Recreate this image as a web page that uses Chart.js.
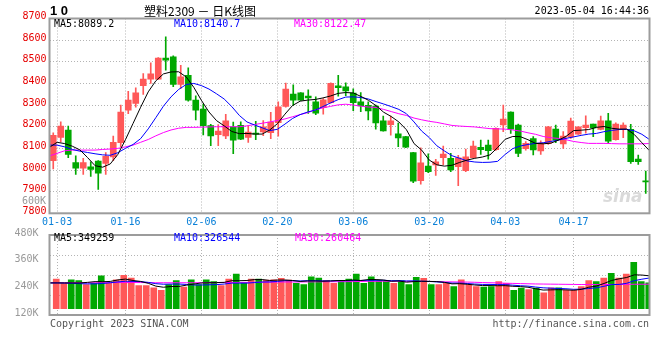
<!DOCTYPE html>
<html>
<head>
<meta charset="utf-8">
<script src="https://cdn.jsdelivr.net/npm/chart.js@4.4.1/dist/chart.umd.min.js"></script>
<style>
  body { margin: 0; background: #fff; }
  #wrap { position: relative; width: 660px; height: 360px; overflow: hidden; font-family: 'DejaVu Sans Mono', monospace; font-size: 10px; }
  #wrap canvas { position: absolute; left: 0; }
  .t { position: absolute; white-space: nowrap; line-height: 12px; }
</style>
</head>
<body>
<div id="wrap">
  <canvas id="kline" width="660" height="232" style="top:0"></canvas>
  <canvas id="vol" width="660" height="98" style="top:226px"></canvas>

  <div class="t" style="left:50px;top:4px;font:bold 13px 'Liberation Sans';line-height:14px">1 0</div>
  <div class="t" style="left:100px;top:4px;width:200px;text-align:center;font:12px 'Noto Sans CJK SC';line-height:14px;color:#000">塑料2309 － 日K线图</div>
  <div class="t" style="right:11px;top:5px;color:#000">2023-05-04 16:44:36</div>

  <div class="t" style="left:54px;top:18px;color:#000">MA5:8089.2</div>
  <div class="t" style="left:174px;top:18px;color:#0000ff">MA10:8140.7</div>
  <div class="t" style="left:294px;top:18px;color:#ff00ff">MA30:8122.47</div>

  <div class="t" style="left:22px;top:195px;color:#999">600K</div>
  <div class="t" style="left:603px;top:186px;font:italic bold 17px 'DejaVu Sans';line-height:20px;color:rgba(150,150,150,0.35)">sina</div>

  <div class="t" style="left:54px;top:232px;color:#000">MA5:349259</div>
  <div class="t" style="left:174px;top:232px;color:#0000ff">MA10:326544</div>
  <div class="t" style="left:295px;top:232px;color:#ff00ff">MA30:260464</div>

  <div class="t" style="left:50px;top:318px;color:#555">Copyright 2023 SINA.COM</div>
  <div class="t" style="right:11px;top:318px;color:#555">http://finance.sina.com.cn</div>
</div>

<script>
var COLORS = {
  UP: '#ff5858',
  DOWN: '#00a800',
  MA5: '#000000',
  MA10: '#0000ff',
  MA30: '#ff00ff',
  GRID: '#b4b4b4',
  FRAME: '#9c9c9c',
  PRICE_TICK: '#e60000',
  DATE_TICK: '#0a80d8',
  VOL_TICK: '#999999',
};

var dates = ['12-30','01-03','01-04','01-05','01-06','01-09','01-10','01-11','01-12','01-13',
  '01-16','01-17','01-18','01-19','01-20','01-30','01-31','02-01','02-02','02-03',
  '02-06','02-07','02-08','02-09','02-10','02-13','02-14','02-15','02-16','02-17',
  '02-20','02-21','02-22','02-23','02-24','02-27','02-28','03-01','03-02','03-03',
  '03-06','03-07','03-08','03-09','03-10','03-13','03-14','03-15','03-16','03-17',
  '03-20','03-21','03-22','03-23','03-24','03-27','03-28','03-29','03-30','03-31',
  '04-03','04-04','04-06','04-07','04-10','04-11','04-12','04-13','04-14','04-17',
  '04-18','04-19','04-20','04-21','04-24','04-25','04-26','04-27','04-28','05-04'];

var tickDays = ['01-03', '01-16', '02-06', '02-20', '03-06', '03-20', '04-03', '04-17'];

var open = [8043,8150,8185,8034,8008,8015,8041,8030,8060,8126,
  8277,8308,8390,8420,8420,8517,8523,8395,8438,8323,
  8281,8205,8163,8158,8200,8206,8150,8170,8176,8172,
  8219,8294,8351,8357,8342,8315,8288,8311,8389,8384,
  8356,8315,8299,8295,8227,8210,8167,8154,8080,7951,
  8018,8023,8057,8054,8015,7997,8057,8105,8115,8094,
  8208,8268,8208,8099,8145,8088,8122,8189,8120,8152,
  8166,8196,8212,8187,8227,8140,8186,8188,8050,7949];

var high = [8172,8223,8203,8065,8054,8038,8043,8080,8157,8300,
  8364,8380,8446,8495,8520,8615,8528,8484,8472,8343,
  8305,8211,8210,8257,8221,8223,8205,8225,8228,8267,
  8315,8402,8394,8358,8371,8338,8330,8403,8438,8403,
  8375,8358,8315,8300,8249,8249,8217,8156,8082,8102,
  8075,8049,8110,8077,8068,8097,8134,8138,8138,8195,
  8300,8269,8212,8131,8154,8135,8202,8208,8177,8240,
  8200,8250,8212,8249,8262,8218,8218,8211,8069,7995];

var low = [8005,8130,8057,7980,7980,7970,7910,7980,8043,8108,
  8260,8290,8349,8400,8418,8461,8385,8377,8318,8231,
  8162,8112,8113,8145,8076,8140,8128,8140,8159,8145,
  8156,8290,8298,8322,8261,8256,8258,8309,8341,8344,
  8274,8270,8231,8189,8180,8161,8108,8103,7942,7935,
  7988,7975,8025,7992,7928,7992,8055,8072,8050,8090,
  8177,8169,8062,8092,8070,8072,8118,8126,8100,8146,
  8164,8170,8154,8185,8126,8138,8149,8031,8026,7892];

var close = [8160,8203,8072,8008,8034,8003,7985,8063,8128,8268,
  8323,8357,8420,8444,8517,8508,8395,8430,8323,8277,
  8205,8158,8180,8227,8138,8143,8175,8166,8200,8221,
  8292,8374,8323,8323,8333,8263,8324,8401,8380,8365,
  8311,8296,8273,8218,8181,8227,8148,8106,7948,8033,
  7992,8038,8074,8000,8056,8061,8111,8094,8089,8192,
  8235,8189,8077,8123,8093,8124,8200,8138,8157,8226,
  8200,8208,8194,8227,8133,8212,8208,8038,8039,7945];

var ma5 = [8105,8128,8122,8110,8093,8058,8020,8013,8028,8072,
  8140,8215,8290,8361,8412,8444,8453,8454,8430,8382,
  8322,8268,8228,8204,8178,8168,8169,8166,8166,8185,
  8214,8258,8298,8318,8323,8326,8333,8342,8354,8358,
  8356,8340,8322,8297,8267,8247,8222,8186,8122,8092,
  8046,8024,8018,8022,8035,8046,8054,8060,8070,8104,
  8142,8155,8154,8140,8123,8121,8124,8138,8155,8182,
  8184,8187,8197,8201,8193,8189,8189,8164,8126,8089.2];

var ma10 = [8115,8115,8107,8095,8087,8081,8075,8070,8068,8080,
  8100,8118,8145,8190,8242,8295,8338,8372,8395,8400,
  8390,8374,8352,8328,8293,8252,8222,8208,8195,8182,
  8188,8212,8238,8256,8268,8277,8293,8310,8325,8337,
  8338,8335,8328,8316,8305,8293,8280,8260,8222,8180,
  8150,8112,8088,8066,8054,8042,8037,8035,8036,8040,
  8072,8099,8111,8118,8123,8126,8132,8138,8146,8153,
  8160,8166,8169,8177,8183,8187,8188,8181,8165,8140.7];

var ma30 = [8065,8077,8089,8092,8092,8092,8092,8095,8097,8100,
  8107,8115,8128,8141,8158,8173,8185,8193,8197,8197,
  8198,8199,8200,8200,8200,8200,8204,8210,8216,8222,
  8229,8236,8246,8256,8265,8278,8287,8294,8301,8304,
  8300,8295,8291,8289,8280,8270,8260,8252,8240,8232,
  8225,8220,8213,8206,8203,8201,8199,8195,8191,8190,
  8189,8185,8180,8172,8165,8155,8149,8146,8140,8132,
  8127,8123,8123,8123,8122,8121,8121,8121,8121,8122.47];

var volume = [315000,271000,308000,298000,257000,271000,349000,271000,308000,356000,
  326000,247000,247000,223000,195000,257000,298000,230000,308000,257000,
  308000,288000,247000,315000,367000,281000,315000,315000,305000,308000,
  324000,305000,271000,257000,339000,326000,298000,271000,298000,315000,
  367000,271000,339000,298000,298000,271000,298000,257000,333000,323000,
  257000,257000,271000,236000,308000,257000,236000,230000,236000,288000,
  271000,195000,220000,202000,220000,168000,223000,223000,195000,195000,
  236000,298000,288000,326000,377000,326000,367000,493000,288000,274000];

var vma5 = [274000,274000,274000,274000,274000,280000,288000,287000,290000,306000,
  315000,300000,290000,270000,240000,228000,236000,236000,250000,262000,
  274000,276000,278000,280000,298000,298000,300000,310000,310000,300000,
  305000,305000,300000,290000,295000,295000,292000,295000,300000,300000,
  305000,300000,310000,310000,305000,292000,295000,282000,288000,292000,
  290000,288000,280000,264000,266000,260000,252000,246000,246000,244000,
  245000,238000,235000,228000,212000,198000,200000,202000,200000,196000,
  205000,228000,240000,268000,300000,318000,332000,360000,358000,349259];

var vma10 = [274000,274000,272000,270000,266000,264000,264000,268000,276000,285000,
  292000,290000,288000,280000,266000,260000,262000,262000,258000,252000,
  252000,254000,256000,262000,272000,272000,272000,278000,284000,285000,
  290000,298000,298000,295000,298000,298000,296000,296000,298000,298000,
  300000,300000,302000,302000,302000,298000,298000,295000,296000,292000,
  290000,285000,280000,272000,272000,268000,262000,258000,258000,256000,
  256000,250000,244000,240000,230000,222000,218000,215000,212000,206000,
  208000,214000,222000,238000,256000,258000,270000,298000,314000,326544];

var vma30 = [276000,276000,276000,276000,276000,276000,276000,277000,277000,278000,
  278000,278000,278000,277000,276000,276000,276000,276000,276000,276000,
  277000,277000,277000,278000,279000,279000,280000,281000,281000,282000,
  283000,284000,284000,284000,285000,286000,286000,287000,287000,288000,
  288000,290000,291000,291000,292000,292000,292000,291000,291000,290000,
  290000,289000,286000,285000,284000,283000,281000,278000,276000,274000,
  271000,269000,267000,265000,263000,262000,261000,260000,259000,258000,
  257000,257000,257000,257000,258000,258000,259000,260000,260000,260464];

Chart.defaults.font.family = "'DejaVu Sans Mono', monospace";
Chart.defaults.font.size = 10;

var candleColors = close.map(function (c, i) {
  return c >= open[i] ? COLORS.UP : COLORS.DOWN;
});

// MA vertices sit on the same 0..79 linear axis the date grid uses
function pts(arr) {
  return arr.map(function (v, i) { return { x: i, y: v }; });
}

function maLine(label, arr, color, yAxis) {
  return {
    type: 'line',
    label: label,
    data: pts(arr),
    xAxisID: 'xg',
    yAxisID: yAxis,
    borderColor: color,
    borderWidth: 1,
    pointRadius: 0,
    tension: 0,
    fill: false,
    order: 0,
  };
}

function dateGridTicks(axis) {
  axis.ticks = tickDays.map(function (d) { return { value: dates.indexOf(d) }; });
}

var framePlugin = {
  id: 'frame',
  afterDraw: function (chart) {
    var a = chart.chartArea;
    var ctx = chart.ctx;
    ctx.save();
    ctx.strokeStyle = COLORS.FRAME;
    ctx.lineWidth = 2;
    ctx.strokeRect(a.left, a.top, a.right - a.left, a.bottom - a.top);
    ctx.restore();
  },
};

var dotted = { display: false, dash: [1, 2] };

new Chart(document.getElementById('kline'), {
  type: 'bar',
  data: {
    labels: dates,
    datasets: [
      maLine('MA5', ma5, COLORS.MA5, 'y'),
      maLine('MA10', ma10, COLORS.MA10, 'y'),
      maLine('MA30', ma30, COLORS.MA30, 'y'),
      {
        label: 'body',
        data: dates.map(function (d, i) { return [open[i], close[i]]; }),
        backgroundColor: candleColors,
        barThickness: 6,
        minBarLength: 1,
        grouped: false,
        order: 1,
      },
      {
        label: 'wick',
        data: dates.map(function (d, i) { return [low[i], high[i]]; }),
        backgroundColor: candleColors,
        barThickness: 1,
        grouped: false,
        order: 2,
      },
    ],
  },
  options: {
    responsive: false,
    animation: false,
    layout: { padding: { top: 18.5, right: 10.5, left: 0, bottom: 0 } },
    plugins: { legend: { display: false }, tooltip: { enabled: false } },
    scales: {
      x: { display: false, offset: true },
      xg: {
        type: 'linear',
        position: 'bottom',
        min: 0,
        max: 79,
        offset: false,
        afterBuildTicks: dateGridTicks,
        afterFit: function (s) { s.height = 18.7; },
        grid: { color: COLORS.GRID, drawTicks: false, offset: false },
        border: dotted,
        ticks: {
          color: COLORS.DATE_TICK,
          padding: 3,
          maxRotation: 0,
          autoSkip: false,
          callback: function (v) { return dates[v]; },
        },
      },
      y: {
        min: 7800,
        max: 8700,
        afterFit: function (s) { s.width = 49.5; },
        grid: { color: COLORS.GRID, drawTicks: false },
        border: dotted,
        ticks: {
          stepSize: 100,
          color: COLORS.PRICE_TICK,
          padding: 3,
          labelOffset: -2,
          callback: function (v) { return String(v); },
        },
      },
    },
  },
  plugins: [framePlugin],
});

new Chart(document.getElementById('vol'), {
  type: 'bar',
  data: {
    labels: dates,
    datasets: [
      maLine('MA5', vma5, COLORS.MA5, 'yv'),
      maLine('MA10', vma10, COLORS.MA10, 'yv'),
      maLine('MA30', vma30, COLORS.MA30, 'yv'),
      {
        label: 'volume',
        data: volume,
        yAxisID: 'yv',
        backgroundColor: candleColors,
        barThickness: 6,
        order: 1,
      },
    ],
  },
  options: {
    responsive: false,
    animation: false,
    layout: { padding: { top: 8.3, right: 10.5, left: 0, bottom: 6.7 } },
    plugins: { legend: { display: false }, tooltip: { enabled: false } },
    scales: {
      x: { display: false, offset: true },
      xg: {
        type: 'linear',
        position: 'bottom',
        min: 0,
        max: 79,
        offset: false,
        afterBuildTicks: dateGridTicks,
        afterFit: function (s) { s.height = 0; },
        grid: { color: COLORS.GRID, drawTicks: false, offset: false },
        border: dotted,
        ticks: { display: false },
      },
      yv: {
        position: 'left',
        min: -68000,
        max: 785000,
        afterFit: function (s) { s.width = 0; },
        grid: { color: COLORS.GRID, drawTicks: false },
        border: dotted,
        ticks: { display: false, count: 5 },
      },
      yl: {
        position: 'left',
        min: 120000,
        max: 480000,
        afterFit: function (s) { s.width = 49.5; },
        grid: { display: false },
        border: { display: false },
        ticks: {
          stepSize: 120000,
          color: COLORS.VOL_TICK,
          padding: 3,
          labelOffset: -2,
          callback: function (v) { return (v / 1000) + 'K'; },
        },
      },
    },
  },
  plugins: [framePlugin],
});
</script>
</body>
</html>
